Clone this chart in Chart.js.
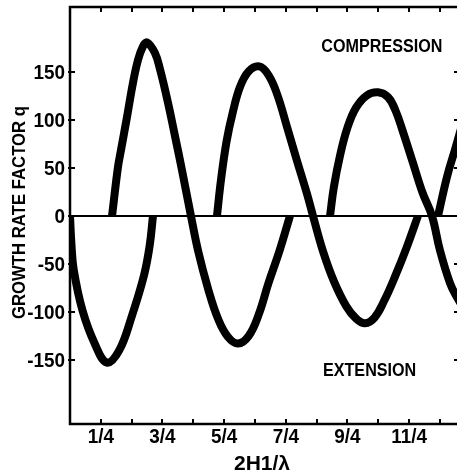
<!DOCTYPE html>
<html>
<head>
<meta charset="utf-8">
<script src="https://cdn.jsdelivr.net/npm/chart.js@4/dist/chart.umd.min.js"></script>
<style>
  html, body { margin: 0; padding: 0; overflow: hidden; background: #fff; }
  #wrap { width: 462px; height: 476px; }
</style>
</head>
<body>
<div id="wrap"><canvas id="chart" width="462" height="476"></canvas></div>
<script>
// Tick positions (2H1/λ in quarters, growth rate q)
const xTickValues = [0.25, 0.5, 0.75, 1.0, 1.25, 1.5, 1.75, 2.0, 2.25, 2.5, 2.75, 3.0];
const xTickLabels = ['1/4', '', '3/4', '', '5/4', '', '7/4', '', '9/4', '', '11/4', ''];
const qTickValues = [-150, -100, -50, 0, 50, 100, 150];
const xTitle = '2H1/λ';
const qTitle = 'GROWTH RATE FACTOR q';

// Branches of the growth-rate curve (each starts and ends on q = 0)
const branch1X = [0, 0.012, 0.03, 0.10, 0.20, 0.30, 0.40, 0.50, 0.60, 0.645, 0.673];
const branch1Q = [0, -30, -56, -98, -133, -153, -140, -105, -62, -32, 0];

const branch2X = [0.341, 0.389, 0.414, 0.462, 0.511, 0.552, 0.592, 0.625, 0.689, 0.730, 0.795, 0.852, 0.908, 0.981,
                  1.04, 1.12, 1.20, 1.28, 1.363, 1.45, 1.53, 1.61, 1.70, 1.784];
const branch2Q = [0, 51, 69, 103, 139, 163, 177, 181, 170, 153, 118, 83, 48, 0,
                  -37, -76, -107, -126, -133, -125, -103, -70, -36, 0];

const branch3X = [1.192, 1.225, 1.27, 1.32, 1.38, 1.45, 1.535, 1.61, 1.68, 1.76, 1.84, 1.92, 1.971,
                  2.05, 2.14, 2.24, 2.32, 2.393, 2.47, 2.55, 2.64, 2.73, 2.822];
const branch3Q = [0, 38, 78, 108, 135, 151, 156, 147, 127, 93, 58, 24, 0,
                  -36, -68, -94, -107, -112, -106, -88, -62, -33, 0];

const branch4X = [2.109, 2.14, 2.19, 2.25, 2.32, 2.41, 2.498, 2.579, 2.64, 2.70, 2.78, 2.86, 2.936,
                  3.001, 3.082, 3.139, 3.187];
const branch4Q = [0, 30, 63, 92, 113, 126, 129, 124, 110, 88, 56, 24, 0,
                  -36, -70, -85, -95];

const branch5X = [2.985, 3.058, 3.122, 3.187];
const branch5Q = [0, 41, 69, 98];

const regionLabels = [
  { text: 'COMPRESSION', x: 2.53, q: 177 },
  { text: 'EXTENSION', x: 2.43, q: -161 }
];

const FONT = "'Liberation Sans', Arial, sans-serif";

function toPoints(xs, qs) {
  return xs.map((x, i) => ({ x: x, y: qs[i] }));
}

function branch(xs, qs) {
  return {
    data: toPoints(xs, qs),
    borderColor: '#000',
    borderWidth: 8,
    pointRadius: 0,
    showLine: true,
    fill: false,
    tension: 0.4,
    borderCapStyle: 'butt',
    borderJoinStyle: 'round'
  };
}

// Lettering with an optional squeeze along the baseline direction
function letter(ctx, text, x, y, size, align, squeeze, rotate, spacing) {
  ctx.save();
  ctx.translate(x, y);
  if (rotate) ctx.rotate(rotate);
  ctx.scale(squeeze, 1);
  ctx.font = 'bold ' + size + 'px ' + FONT;
  if ('letterSpacing' in ctx) ctx.letterSpacing = (spacing || 0) / squeeze + 'px';
  ctx.textAlign = align;
  ctx.textBaseline = 'middle';
  ctx.fillStyle = '#000';
  ctx.fillText(text, 0, 0);
  ctx.restore();
}

// Boxed frame with inward ticks on all four sides, the q = 0 line and all lettering
const framePlugin = {
  id: 'frame',
  beforeDatasetsDraw(chart) {
    const { ctx, chartArea: a, scales } = chart;
    const xs = scales.x, ys = scales.y;
    const tl = 5;
    ctx.save();
    ctx.strokeStyle = '#000';
    ctx.lineWidth = 2.5;
    ctx.beginPath();
    ctx.rect(a.left, a.top, a.right - a.left, a.bottom - a.top);
    ctx.stroke();
    ctx.lineWidth = 2;
    ctx.beginPath();
    xTickValues.forEach(v => {
      const px = Math.round(xs.getPixelForValue(v));
      ctx.moveTo(px, a.bottom); ctx.lineTo(px, a.bottom - tl);
      ctx.moveTo(px, a.top); ctx.lineTo(px, a.top + tl);
    });
    qTickValues.forEach(v => {
      const py = Math.round(ys.getPixelForValue(v));
      ctx.moveTo(a.left - 2, py); ctx.lineTo(a.left + tl, py);
      ctx.moveTo(a.right, py); ctx.lineTo(a.right - tl, py);
    });
    ctx.stroke();
    const y0 = ys.getPixelForValue(0);
    ctx.lineWidth = 2;
    ctx.beginPath();
    ctx.moveTo(a.left, y0); ctx.lineTo(a.right, y0);
    ctx.stroke();
    ctx.restore();
  },
  afterDatasetsDraw(chart) {
    const { ctx, chartArea: a, scales } = chart;
    const xs = scales.x, ys = scales.y;
    // tick labels
    qTickValues.forEach(v => {
      letter(ctx, String(v), a.left - 5, ys.getPixelForValue(v) + 1, 21, 'right', 0.9);
    });
    xTickValues.forEach((v, i) => {
      if (xTickLabels[i]) letter(ctx, xTickLabels[i], xs.getPixelForValue(v), a.bottom + 13, 21, 'center', 0.9);
    });
    // axis titles
    letter(ctx, xTitle, 262, 464, 21, 'center', 1, 0, 0);
    letter(ctx, qTitle, 20, (a.top + a.bottom) / 2 - 3, 19, 'center', 0.88, -Math.PI / 2, 0);
    // region labels
    regionLabels.forEach(l => {
      letter(ctx, l.text, xs.getPixelForValue(l.x), ys.getPixelForValue(l.q), 19, 'center', 0.85);
    });
  }
};

new Chart(document.getElementById('chart'), {
  type: 'scatter',
  data: {
    datasets: [
      branch(branch1X, branch1Q),
      branch(branch2X, branch2Q),
      branch(branch3X, branch3Q),
      branch(branch4X, branch4Q),
      branch(branch5X, branch5Q)
    ]
  },
  options: {
    responsive: false,
    animation: false,
    layout: { padding: { top: 7, right: 3, left: 0, bottom: 0 } },
    plugins: { legend: { display: false }, tooltip: { enabled: false } },
    scales: {
      x: {
        type: 'linear',
        min: 0,
        max: 3.155,
        grid: { display: false },
        border: { display: false },
        afterBuildTicks(scale) { scale.ticks = xTickValues.map(v => ({ value: v })); },
        afterFit(scale) { scale.height = 52; },
        ticks: { display: false }
      },
      y: {
        type: 'linear',
        min: -217,
        max: 218,
        grid: { display: false },
        border: { display: false },
        afterBuildTicks(scale) { scale.ticks = qTickValues.map(v => ({ value: v })); },
        afterFit(scale) { scale.width = 70; },
        ticks: { display: false }
      }
    }
  },
  plugins: [framePlugin]
});
</script>
</body>
</html>
